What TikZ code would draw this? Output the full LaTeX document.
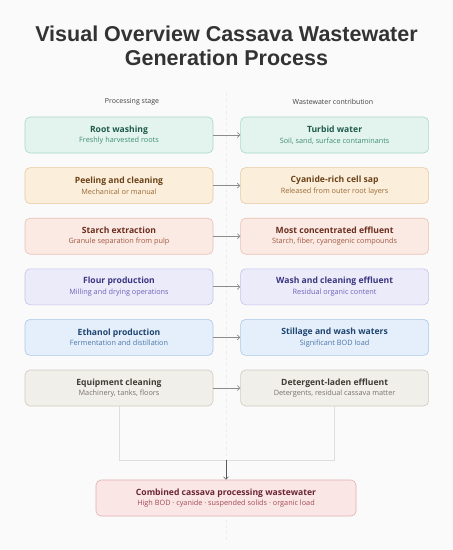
\documentclass[tikz,border=0pt]{standalone}
\usepackage{fontspec}
\setmainfont{Open Sans}
\newfontfamily\titlefont{Liberation Sans}
\usepackage{tikz}
\usetikzlibrary{arrows.meta,positioning}
\definecolor{pagebg}{HTML}{FAFAFA}
\definecolor{tealfill}{HTML}{E3F4EE}\definecolor{tealline}{HTML}{A9D9C7}
\definecolor{tealtext}{HTML}{1F5A4A}\definecolor{tealsub}{HTML}{3F8C74}
\definecolor{peachfill}{HTML}{FBEEDB}\definecolor{peachline}{HTML}{E6C9A0}
\definecolor{peachtext}{HTML}{6B4217}\definecolor{peachsub}{HTML}{9A6A35}
\definecolor{salmonfill}{HTML}{FBEAE3}\definecolor{salmonline}{HTML}{E8C1B2}
\definecolor{salmontext}{HTML}{6A2E1E}\definecolor{salmonsub}{HTML}{A0583F}
\definecolor{lavfill}{HTML}{ECEBFA}\definecolor{lavline}{HTML}{C4C2EA}
\definecolor{lavtext}{HTML}{3A3580}\definecolor{lavsub}{HTML}{6A64B8}
\definecolor{bluefill}{HTML}{E4EFFB}\definecolor{blueline}{HTML}{AAC8E8}
\definecolor{bluetext}{HTML}{1E4470}\definecolor{bluesub}{HTML}{4A76A8}
\definecolor{greyfill}{HTML}{F1EFE9}\definecolor{greyline}{HTML}{D0CBC1}
\definecolor{greytext}{HTML}{3F3B35}\definecolor{greysub}{HTML}{77726A}
\definecolor{pinkfill}{HTML}{FBE6E6}\definecolor{pinkline}{HTML}{E2B0B0}
\definecolor{pinktext}{HTML}{6A2530}\definecolor{pinksub}{HTML}{A04A55}
\newcommand{\boxtext}[3]{\textbf{#1}\\[-0.5pt]{\color{#3}\fontsize{7.3}{9}\selectfont #2}}
\tikzset{
  box/.style={rounded corners=5pt, align=center, line width=0.6pt, minimum width=188pt, minimum height=36pt, inner sep=2pt, font=\fontsize{8.6}{11}\selectfont},
  tealbox/.style={box, fill=tealfill, draw=tealline, text=tealtext},
  peachbox/.style={box, fill=peachfill, draw=peachline, text=peachtext},
  salmonbox/.style={box, fill=salmonfill, draw=salmonline, text=salmontext},
  lavbox/.style={box, fill=lavfill, draw=lavline, text=lavtext},
  bluebox/.style={box, fill=bluefill, draw=blueline, text=bluetext},
  greybox/.style={box, fill=greyfill, draw=greyline, text=greytext},
  pinkbox/.style={box, fill=pinkfill, draw=pinkline, text=pinktext, minimum width=260pt},
  header/.style={font=\fontsize{7}{8}\selectfont, text=black!75},
  arrow/.style={-{Straight Barb[length=2.5pt,width=5pt]}, draw=black!45, line width=0.7pt},
  feed/.style={draw=black!13, line width=0.6pt},
  mergearrow/.style={-{Straight Barb[length=2.5pt,width=5pt]}, draw=black!65, line width=0.6pt}
}

\begin{document}
\begin{tikzpicture}[x=1pt, y=1pt, node distance=14pt and 27pt]
\fill[pagebg] (0,0) rectangle (453,-550);
\useasboundingbox (0,0) rectangle (453,-550);
% title and column headers
\node[font=\titlefont\bfseries\fontsize{21.5}{24.5}\selectfont, text=black!80, align=center] (title) at (226.5,-46) {Visual Overview Cassava Wastewater\\Generation Process};
\node[header] (lhead) at (132,-102) {Processing stage};
\node[header] (rhead) at (333,-102) {Wastewater contribution};
\coordinate (divtop) at (226.5,-93);
\coordinate (divbot) at (226.5,-540);
\draw[black!7, dashed, line width=0.5pt] (divtop) -- (divbot);
% processing stages
\node[tealbox] (wash) at (119,-135) {\boxtext{Root washing}{Freshly harvested roots}{tealsub}};
\node[peachbox, below=of wash] (peel) {\boxtext{Peeling and cleaning}{Mechanical or manual}{peachsub}};
\node[salmonbox, below=of peel] (starch) {\boxtext{Starch extraction}{Granule separation from pulp}{salmonsub}};
\node[lavbox, below=of starch] (flour) {\boxtext{Flour production}{Milling and drying operations}{lavsub}};
\node[bluebox, below=of flour] (ethanol) {\boxtext{Ethanol production}{Fermentation and distillation}{bluesub}};
\node[greybox, below=of ethanol] (equip) {\boxtext{Equipment cleaning}{Machinery, tanks, floors}{greysub}};
% wastewater contributions
\node[tealbox, right=of wash] (turbid) {\boxtext{Turbid water}{Soil, sand, surface contaminants}{tealsub}};
\node[peachbox, right=of peel] (sap) {\boxtext{Cyanide-rich cell sap}{Released from outer root layers}{peachsub}};
\node[salmonbox, right=of starch] (conc) {\boxtext{Most concentrated effluent}{Starch, fiber, cyanogenic compounds}{salmonsub}};
\node[lavbox, right=of flour] (residual) {\boxtext{Wash and cleaning effluent}{Residual organic content}{lavsub}};
\node[bluebox, right=of ethanol] (stillage) {\boxtext{Stillage and wash waters}{Significant BOD load}{bluesub}};
\node[greybox, right=of equip] (deterg) {\boxtext{Detergent-laden effluent}{Detergents, residual cassava matter}{greysub}};
% combined
\node[pinkbox] (combined) at (226,-498) {\boxtext{Combined cassava processing wastewater}{High BOD · cyanide · suspended solids · organic load}{pinksub}};
\coordinate (merge) at (226,-460);
\draw[arrow] (wash) -- (turbid);
\draw[arrow] (peel) -- (sap);
\draw[arrow] (starch) -- (conc);
\draw[arrow] (flour) -- (residual);
\draw[arrow] (ethanol) -- (stillage);
\draw[arrow] (equip) -- (deterg);
\draw[feed] (equip.south) |- (merge);
\draw[feed] (deterg.south) |- (merge);
\draw[mergearrow] (merge) -- (combined);
\end{tikzpicture}
\end{document}
